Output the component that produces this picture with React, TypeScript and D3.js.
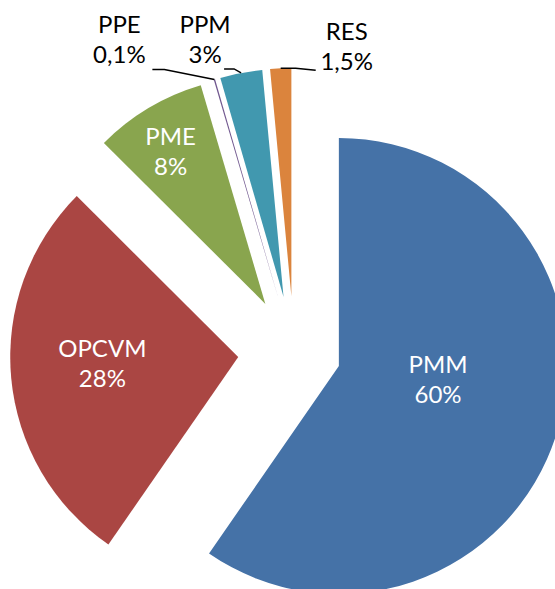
import { arc, pie, PieArcDatum } from "d3";

const width = 555;
const height = 589;

const categories = ["PMM", "OPCVM", "PME", "PPE", "PPM", "RES"];
const shares = [60, 28, 8, 0.1, 3, 1.5];
const shareLabels = ["60%", "28%", "8%", "0,1%", "3%", "1,5%"];
const colours = ["#4572A7", "#AA4643", "#89A54E", "#71588F", "#4198AF", "#DB843D"];

const cx = 294;
const cy = 352;
const radius = 228;

// how far each slice is pulled out of the pie
const explode: Record<string, number> = { PMM: 47 };
const defaultExplode = 56;

// labels drawn inside the slice: distance from the slice tip, angle tweak (deg)
const inside: Record<string, { r: number; shift: number }> = {
  PMM: { r: 100, shift: -10 },
  OPCVM: { r: 136, shift: 2.7 },
  PME: { r: 180, shift: -1 },
};

// labels outside with a leader line (offsets from the arc point)
const outside: Record<
  string,
  { elbow: [number, number]; end: [number, number]; text: [number, number] }
> = {
  PPE: { elbow: [-50, -10], end: [-62, -10], text: [-33, -6] },
  PPM: { elbow: [-7, -4], end: [-17, -4], text: [-19, -6] },
  RES: { elbow: [15, 0], end: [35, 2], text: [31, 0] },
};

const polar = (a: number, r: number): [number, number] => [
  Math.sin(a) * r,
  -Math.cos(a) * r,
];

const font = "Lato, 'DejaVu Sans', sans-serif";
const fontSize = 24;
const lineGap = 30;

type Row = { name: string; value: number; label: string; colour: string };

export default function App() {
  const rows: Row[] = categories.map((name, i) => ({
    name,
    value: shares[i],
    label: shareLabels[i],
    colour: colours[i],
  }));

  const slices = pie<Row>()
    .sort(null)
    .value((d) => d.value)(rows);

  const sliceArc = arc<PieArcDatum<Row>>().innerRadius(0).outerRadius(radius);

  return (
    <svg
      width={width}
      height={height}
      style={{ position: "absolute", left: 0, top: 0, background: "#fff" }}
    >
      {slices.map((s) => {
        const mid = (s.startAngle + s.endAngle) / 2;
        const off = explode[s.data.name] ?? defaultExplode;
        const [ox, oy] = polar(mid, off);
        const tipX = cx + ox;
        const tipY = cy + oy;
        return (
          <g key={s.data.name} transform={`translate(${tipX},${tipY})`}>
            <path d={sliceArc(s) ?? ""} fill={s.data.colour} />
          </g>
        );
      })}
      {slices.map((s) => {
        const mid = (s.startAngle + s.endAngle) / 2;
        const off = explode[s.data.name] ?? defaultExplode;
        const [ox, oy] = polar(mid, off);
        const tipX = cx + ox;
        const tipY = cy + oy;
        const ins = inside[s.data.name];
        if (ins) {
          const [lx, ly] = polar(mid + (ins.shift * Math.PI) / 180, ins.r);
          const x = tipX + lx;
          const y = tipY + ly;
          return (
            <text
              key={s.data.name}
              x={x}
              textAnchor="middle"
              fill="#fff"
              fontFamily={font}
              fontSize={fontSize}
            >
              <tspan x={x} y={y - 6}>
                {s.data.name}
              </tspan>
              <tspan x={x} y={y - 6 + lineGap}>
                {s.data.label}
              </tspan>
            </text>
          );
        }
        const out = outside[s.data.name];
        const [ax, ay] = polar(mid, radius);
        const px = tipX + ax;
        const py = tipY + ay;
        const ex = px + out.end[0];
        const ey = py + out.end[1];
        const tx = ex + out.text[0];
        const ty = ey + out.text[1];
        return (
          <g key={s.data.name}>
            <polyline
              points={`${px},${py} ${px + out.elbow[0]},${py + out.elbow[1]} ${ex},${ey}`}
              fill="none"
              stroke="#000"
              strokeWidth={1.5}
            />
            <text
              textAnchor="middle"
              fill="#000"
              fontFamily={font}
              fontSize={fontSize}
            >
              <tspan x={tx} y={ty - lineGap}>
                {s.data.name}
              </tspan>
              <tspan x={tx} y={ty}>
                {s.data.label}
              </tspan>
            </text>
          </g>
        );
      })}
    </svg>
  );
}
